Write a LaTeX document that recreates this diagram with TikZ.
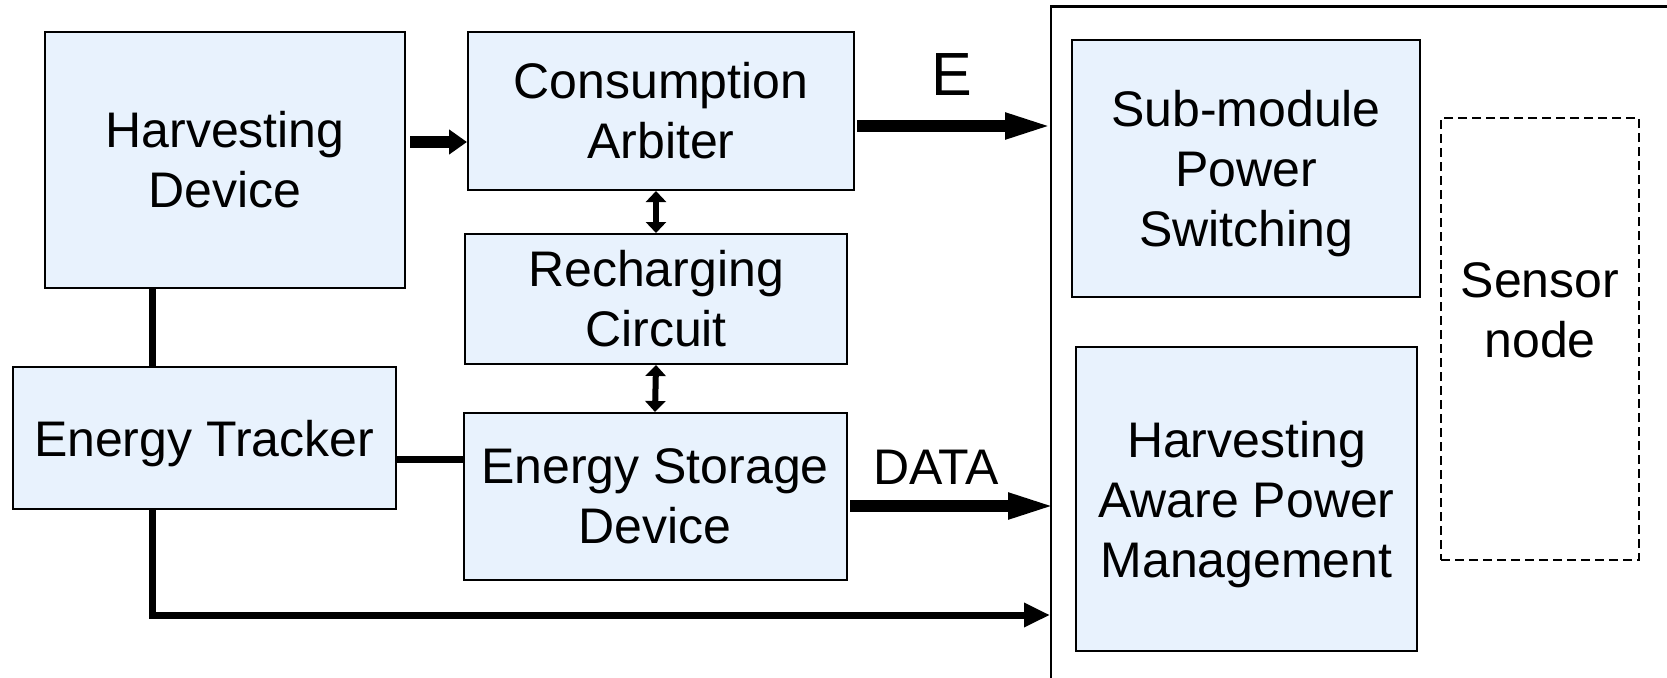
\documentclass[tikz,border=0pt]{standalone}
\usepackage{fontspec}
\setmainfont{Liberation Sans}
\usetikzlibrary{arrows.meta,calc}
\definecolor{boxblue}{RGB}{232,242,253}
\newcommand{\nodepth}[1]{\raisebox{0pt}[\height][0pt]{#1}}
\begin{document}
\begin{tikzpicture}[x=1pt,y=-1pt,
  box/.style={draw, line width=2pt, fill=boxblue, rectangle, inner sep=0pt, align=center, font=\fontsize{50}{60}\selectfont},
  lbl/.style={inner sep=0pt, align=center, font=\fontsize{50}{60}\selectfont},
  bigarrow/.style={line width=12pt, -{Triangle[length=50pt,width=23pt]}},
  midarrow/.style={line width=12pt, -{Triangle[length=18pt,width=24pt]}},
  dblarrow/.style={line width=6pt, {Triangle[length=11pt,width=20pt]}-{Triangle[length=11pt,width=20pt]}},
  plainline/.style={line width=7pt},
  thinarrow/.style={line width=7pt, -{Triangle[length=26pt,width=23pt]}}
]
\useasboundingbox (0,0) rectangle (1667,677);
\fill[white] (0,0) rectangle (1667,677);

% outer sensor node frame
\begin{scope}
\clip (0,0) rectangle (1667,677);
\draw[line width=2.5pt] (1700,6.5) -- (1051,6.5) -- (1051,700);
\end{scope}

% boxes
\node[box, minimum width=360pt, minimum height=256pt] (HD) at (225,160) {Harvesting\\Device};
\node[box, minimum width=386pt, minimum height=158pt] (CA) at (661,111) {Consumption\\Arbiter};
\node[box, minimum width=382pt, minimum height=130pt] (RC) at (656,299) {Recharging\\Circuit};
\node[box, minimum width=383pt, minimum height=167pt] (ESD) at (655,496.5) {Energy Storage\\Device};
\node[box, minimum width=383pt, minimum height=142pt] (ET) at (204,438) {\nodepth{Energy Tracker}};
\node[box, minimum width=348pt, minimum height=257pt] (SM) at (1246,168.5) {Sub-module\\Power\\\nodepth{Switching}};
\node[box, minimum width=341pt, minimum height=304pt] (HAPM) at (1246.5,499) {Harvesting\\Aware Power\\\nodepth{Management}};
\node[draw, line width=1.5pt, dash pattern=on 9pt off 5pt, rectangle, minimum width=198pt, minimum height=442pt] (SN) at (1540,339) {};
\node[lbl] (SNtext) at (1540,310) {Sensor\\node};

% labels
\node[inner sep=0pt, font=\fontsize{61}{61}\selectfont] (Elbl) at (952,75) {E};
\node[lbl] (DATAlbl) at (936,467.5) {DATA};

% coordinates for free ends
\coordinate (hdout) at (410,142);
\coordinate (caout) at (857,126);
\coordinate (eend) at (1055,126);
\coordinate (esdout) at (850,506);
\coordinate (dend) at (1058,506);
\coordinate (etline) at (395,459);
\coordinate (corner) at (152,615);
\coordinate (bend) at (1050,615);

% connectors
\draw[midarrow] (hdout) -- (CA.west |- hdout);
\draw[bigarrow] (caout) -- (eend);
\draw[dblarrow] (RC.north |- CA.south) -- (RC.north);
\draw[dblarrow] (RC.south) -- (ESD.north);
\draw[bigarrow] (esdout) -- (dend);
\draw[plainline] (etline) -- (ESD.west |- etline);
\draw[plainline] (HD.south -| corner) -- (ET.north -| corner);
\draw[thinarrow] (ET.south -| corner) -- (corner) -- (bend);
\end{tikzpicture}
\end{document}
